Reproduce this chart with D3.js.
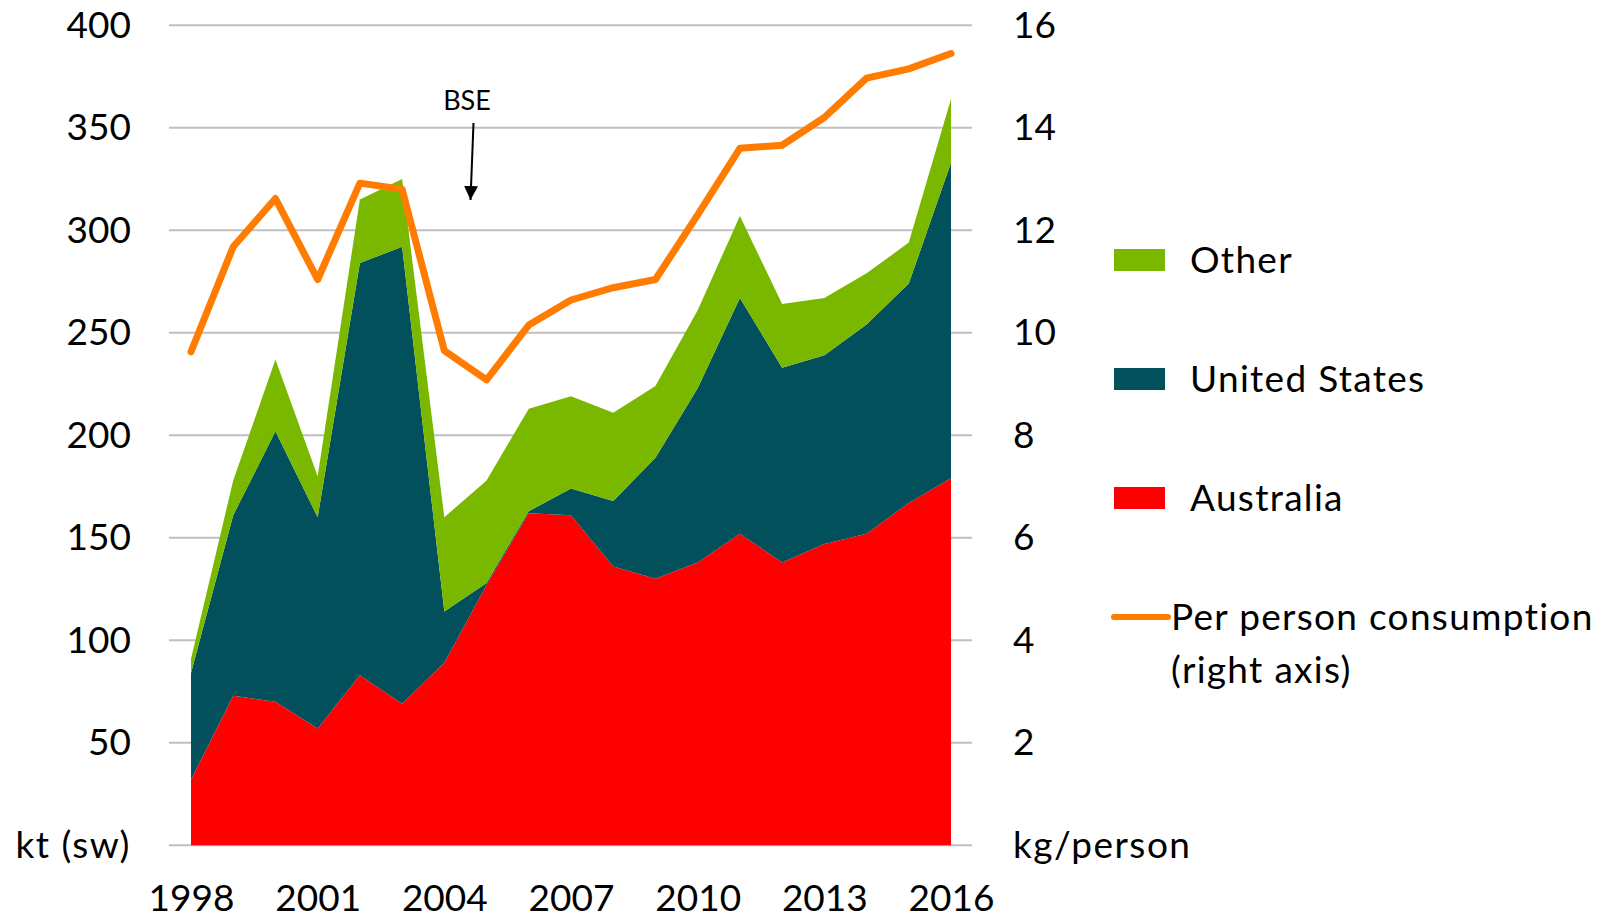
<!DOCTYPE html>
<html>
<head>
<meta charset="utf-8">
<script src="https://cdn.jsdelivr.net/npm/d3@7"></script>
<style>
  body { margin: 0; background: #fff; }
  text { font-family: Lato, "Open Sans", sans-serif; fill: #000; }
</style>
</head>
<body>
<svg id="chart" width="1607" height="920"></svg>
<script>
// beef imports, kt (sw) and per person consumption (kg)
var years = [1998, 1999, 2000, 2001, 2002, 2003, 2004, 2005, 2006, 2007,
             2008, 2009, 2010, 2011, 2012, 2013, 2014, 2015, 2016];
var australia = [32, 73, 70, 57, 83, 69, 89, 127, 162, 161,
                 136, 130, 138, 152, 138, 147, 152, 167, 179];
var unitedStates = [52, 88, 132, 103, 201, 223, 25, 1, 1, 13,
                    32, 59, 85, 115, 95, 92, 102, 107, 154];
var other = [7, 17, 35, 20, 31, 33, 46, 50, 50, 45,
             43, 35, 38, 40, 31, 28, 25, 20, 31];
var perPerson = [9.63, 11.68, 12.62, 11.04, 12.92, 12.8, 9.65, 9.08, 10.15, 10.64,
                 10.88, 11.04, 12.3, 13.6, 13.66, 14.2, 14.97, 15.15, 15.45];

var leftTicks = [0, 50, 100, 150, 200, 250, 300, 350, 400];
var rightTicks = [0, 2, 4, 6, 8, 10, 12, 14, 16];
var yearTicks = [1998, 2001, 2004, 2007, 2010, 2013, 2016];

var keys = ["Australia", "United States", "Other"];
var colors = { "Australia": "#ff0000", "United States": "#02505c", "Other": "#7ab800" };
var lineColor = "#ff7c00";

var rows = years.map((y, i) => ({
  year: y,
  "Australia": australia[i],
  "United States": unitedStates[i],
  "Other": other[i]
}));

var svg = d3.select("#chart");

var x = d3.scaleLinear().domain([1998, 2016]).range([191, 951]);
var y = d3.scaleLinear().domain([0, 400]).range([845.3, 25.3]);
var y2 = d3.scaleLinear().domain([0, 16]).range([845.3, 25.3]);

// gridlines
svg.append("g")
    .selectAll("line")
    .data(leftTicks)
    .enter()
    .append("line")
    .attr("x1", 169)
    .attr("x2", 972)
    .attr("y1", d => y(d))
    .attr("y2", d => y(d))
    .attr("stroke", "#bfbfbf")
    .attr("stroke-width", 2);

// stacked areas
var series = d3.stack().keys(keys)(rows);

var area = d3.area()
    .x(d => x(d.data.year))
    .y0(d => y(d[0]))
    .y1(d => y(d[1]));

svg.append("g")
    .selectAll("path")
    .data(series)
    .enter()
    .append("path")
    .attr("fill", d => colors[d.key])
    .attr("d", area);

// per person line
var line = d3.line()
    .x((d, i) => x(years[i]))
    .y(d => y2(d));

svg.append("path")
    .datum(perPerson)
    .attr("fill", "none")
    .attr("stroke", lineColor)
    .attr("stroke-width", 7)
    .attr("stroke-linejoin", "round")
    .attr("stroke-linecap", "round")
    .attr("d", line);

// axes
var leftAxis = d3.axisLeft(y)
    .tickValues(leftTicks)
    .tickSize(0)
    .tickPadding(38)
    .tickFormat(d => d === 0 ? "kt (sw)" : d);

var rightAxis = d3.axisRight(y2)
    .tickValues(rightTicks)
    .tickSize(0)
    .tickPadding(41)
    .tickFormat(d => d === 0 ? "kg/person" : d);

var bottomAxis = d3.axisBottom(x)
    .tickValues(yearTicks)
    .tickSize(0)
    .tickPadding(39)
    .tickFormat(d3.format("d"));

svg.append("g")
    .attr("transform", "translate(169,0)")
    .call(leftAxis);

svg.append("g")
    .attr("transform", "translate(972,0)")
    .call(rightAxis);

svg.append("g")
    .attr("transform", "translate(0,845.3)")
    .call(bottomAxis);

svg.selectAll(".domain").remove();
svg.selectAll(".tick text")
    .attr("font-size", 37)
    .style("font-family", "Lato, 'Open Sans', sans-serif")
    .attr("fill", "#000")
    .style("letter-spacing", d => (d === 0 ? "1.5px" : null));

// BSE annotation
svg.append("text")
    .attr("x", 467)
    .attr("y", 110)
    .attr("font-size", 27)
    .style("text-anchor", "middle")
    .text("BSE");

svg.append("defs")
  .append("marker")
    .attr("id", "arrow")
    .attr("viewBox", "0 0 10 10")
    .attr("refX", 10)
    .attr("refY", 5)
    .attr("markerWidth", 7)
    .attr("markerHeight", 7)
    .attr("orient", "auto")
  .append("path")
    .attr("d", "M0,0 L10,5 L0,10 Z")
    .attr("fill", "#000");

svg.append("line")
    .attr("x1", 473.5)
    .attr("y1", 123)
    .attr("x2", 470.5)
    .attr("y2", 200)
    .attr("stroke", "#000")
    .attr("stroke-width", 2)
    .attr("marker-end", "url(#arrow)");

// legend
var legendItems = [
  { key: "Other", y: 260 },
  { key: "United States", y: 379 },
  { key: "Australia", y: 498 }
];

var legend = svg.append("g").classed("legend", true);

legend.selectAll("rect")
    .data(legendItems)
    .enter()
    .append("rect")
    .attr("x", 1114)
    .attr("y", d => d.y - 11)
    .attr("width", 51)
    .attr("height", 22)
    .attr("fill", d => colors[d.key]);

legend.selectAll("text.item")
    .data(legendItems)
    .enter()
    .append("text")
    .classed("item", true)
    .attr("x", 1190)
    .attr("y", d => d.y)
    .attr("dy", "0.35em")
    .attr("font-size", 37)
    .style("letter-spacing", "1.3px")
    .text(d => d.key);

legend.append("line")
    .attr("x1", 1114)
    .attr("x2", 1168)
    .attr("y1", 617)
    .attr("y2", 617)
    .attr("stroke", lineColor)
    .attr("stroke-width", 6)
    .attr("stroke-linecap", "round");

legend.append("text")
    .attr("x", 1171)
    .attr("y", 617)
    .attr("dy", "0.35em")
    .attr("font-size", 37)
    .style("letter-spacing", "1.3px")
    .text("Per person consumption");

legend.append("text")
    .attr("x", 1171)
    .attr("y", 670)
    .attr("dy", "0.35em")
    .attr("font-size", 37)
    .style("letter-spacing", "1.3px")
    .text("(right axis)");
</script>
</body>
</html>
